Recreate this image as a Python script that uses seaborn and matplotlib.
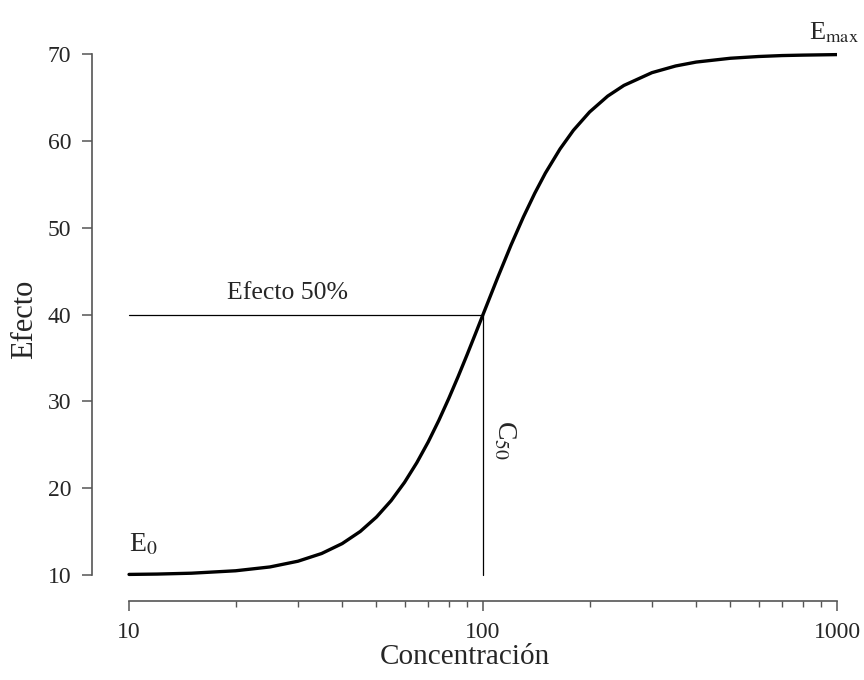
import matplotlib
matplotlib.use("Agg")
import matplotlib.pyplot as plt
import seaborn as sns
import pandas as pd
from matplotlib.ticker import FixedLocator, NullFormatter

# Data
concentracion = [10, 12, 15, 20, 25, 30, 35, 40, 45, 50, 55, 60, 65, 70, 75, 80, 85, 90, 95,
                 100, 110, 120, 130, 140, 150, 165, 180, 200, 225, 250, 300, 350, 400, 500,
                 600, 700, 800, 1000]
efecto = [10.06, 10.10, 10.20, 10.48, 10.92, 11.58, 12.47, 13.61, 15.01, 16.67, 18.56, 20.66,
          22.93, 25.32, 27.80, 30.32, 32.83, 35.30, 37.70, 40.00, 44.26, 48.01, 51.23, 53.97,
          56.29, 59.07, 61.22, 63.33, 65.16, 66.39, 67.86, 68.63, 69.08, 69.52, 69.72, 69.83,
          69.88, 69.94]
x_ticks = [10, 100, 1000]
x_tick_labels = ["10", "100", "1000"]
x_minor_ticks = [20, 30, 40, 50, 60, 70, 80, 90, 200, 300, 400, 500, 600, 700, 800, 900]
y_ticks = [10, 20, 30, 40, 50, 60, 70]
e0, emax, c50, e50 = 10, 70, 100, 40

sns.set_theme(style="white")
plt.rcParams["font.family"] = ["Liberation Serif", "DejaVu Serif"]
plt.rcParams["mathtext.fontset"] = "stix"

df = pd.DataFrame({"Concentración": concentracion, "Efecto": efecto})

fig = plt.figure(figsize=(8.64, 6.8), dpi=100)
ax = fig.add_axes([0.1065, 0.1162, 0.9688 - 0.1065, 0.946 - 0.1162])

sns.lineplot(data=df, x="Concentración", y="Efecto", ax=ax, color="black", linewidth=2.4)
ax.set_xscale("log")
ax.set_xlim(7.86, 1000)
ax.set_ylim(7.0, 72.0)

# reference lines
ax.plot([concentracion[0], c50], [e50, e50], color="black", linewidth=0.9)
ax.plot([c50, c50], [e50, e0], color="black", linewidth=0.9)

spine_col = "#555555"
for s in ["top", "right"]:
    ax.spines[s].set_visible(False)
ax.spines["left"].set_bounds(10, 70)
ax.spines["bottom"].set_bounds(10, 1000)
for s in ["left", "bottom"]:
    ax.spines[s].set_color(spine_col)
    ax.spines[s].set_linewidth(1.2)

ax.xaxis.set_major_locator(FixedLocator(x_ticks))
ax.set_xticklabels(x_tick_labels)
ax.xaxis.set_minor_locator(FixedLocator(x_minor_ticks))
ax.xaxis.set_minor_formatter(NullFormatter())
ax.set_yticks(y_ticks)
ax.tick_params(axis="both", which="major", direction="out", length=7, width=1.1,
               color=spine_col, labelsize=17, left=True, bottom=True)
ax.tick_params(axis="x", which="major", pad=8)
ax.tick_params(axis="y", which="major", pad=8)
ax.tick_params(axis="x", which="minor", direction="out", length=4, width=1.0,
               color=spine_col, bottom=True)

ax.set_xlabel("Concentración", fontsize=21, labelpad=1)
ax.set_ylabel("Efecto", fontsize=22, labelpad=6)
ax.grid(False)

ax.text(28, 41.2, "Efecto 50%", fontsize=18.5, ha="center", va="bottom")
ax.text(106, 25.5, r"C$_{50}$", fontsize=20, rotation=-90, ha="left", va="center")
ax.text(10, 12.0, r"E$_0$", fontsize=20, ha="left", va="bottom")
ax.text(834, 71.0, r"E$_{\mathrm{max}}$", fontsize=19, ha="left", va="bottom", clip_on=False)

fig.savefig("out.png", dpi=100, facecolor="white")
